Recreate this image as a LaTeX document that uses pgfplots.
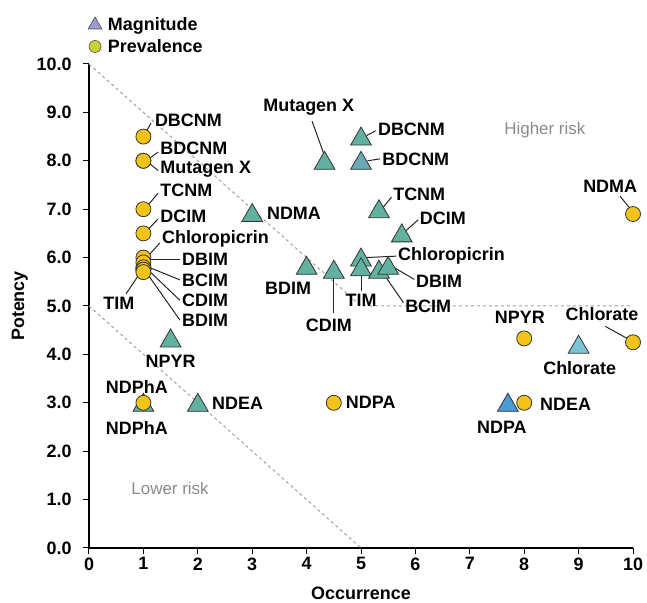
\documentclass[border=0pt]{standalone}
\usepackage{fontspec}
\setmainfont{Liberation Sans}
\usepackage{pgfplots}
\pgfplotsset{compat=1.18}
\definecolor{tri}{HTML}{62B0A0}
\definecolor{trib}{HTML}{6AAAB6}
\definecolor{trin}{HTML}{4C9CD8}
\definecolor{tric}{HTML}{7CC4D4}
\definecolor{circ}{HTML}{F4C31A}
\definecolor{legtri}{HTML}{9C9CD2}
\definecolor{legcirc}{HTML}{C9D432}
\definecolor{riskgray}{HTML}{8A8A8A}
\tikzset{lab/.style={font=\fontsize{18}{20}\selectfont\bfseries, inner sep=0pt}}
\begin{document}
\begin{tikzpicture}[x=1bp,y=1bp]
\path[use as bounding box] (-89,-55) rectangle (558,548);
\begin{axis}[
  at={(0,0)}, anchor=south west,
  scale only axis, width=544bp, height=484bp,
  xmin=0, xmax=10, ymin=0, ymax=10,
  clip=false,
  axis lines=left, axis line style={-, line width=1.2bp},
  tick align=outside, major tick length=6bp,
  tick style={line width=1bp, black},
  xtick={0,...,10}, ytick={0,...,10},
  /pgf/number format/assume math mode=true,
  tick label style={font=\fontsize{18}{20}\selectfont\bfseries},
  yticklabel style={xshift=-8bp, /pgf/number format/.cd, fixed, fixed zerofill, precision=1},
  xlabel={Occurrence}, ylabel={Potency},
  every axis x label/.style={at={(axis cs:5,-0.93)}, anchor=center, font=\fontsize{18}{20}\selectfont\bfseries},
  every axis y label/.style={at={(axis cs:-1.27,5)}, rotate=90, anchor=center, font=\fontsize{18}{20}\selectfont\bfseries},
  legend style={at={(axis cs:-0.02,10.98)}, anchor=north west, draw=none, fill=none,
    font=\fontsize{18}{20}\selectfont\bfseries, row sep=5bp, inner sep=0pt,
    nodes={inner xsep=6bp, inner ysep=1bp}},
  legend cell align=left,
]
\addlegendimage{only marks, mark=triangle*, mark size=8bp, mark options={fill=legtri, draw=black!70, line width=0.6bp}}
\addlegendentry{Magnitude}
\addlegendimage{only marks, mark=*, mark size=6bp, mark options={fill=legcirc, draw=black!70, line width=0.6bp}}
\addlegendentry{Prevalence}

% risk boundaries
\addplot[forget plot, riskgray!80, line width=1bp, dash pattern=on 3bp off 3bp] coordinates {(0,10) (5,5) (10,5)};
\addplot[forget plot, riskgray!80, line width=1bp, dash pattern=on 3bp off 3bp] coordinates {(0,5) (5,0)};

% Magnitude
\addplot[forget plot, only marks, mark=triangle*, mark size=12bp, mark options={fill=tri, draw=black!80, line width=0.8bp, yshift=-2.5bp}] coordinates {
(1,3) (1.5,4.33) (2,3) (3,6.92) (4,5.83) (4.33,8) (4.5,5.75) (5,8.5)
(5,6) (5,5.8) (5.33,7) (5.33,5.75) (5.5,5.83) (5.75,6.5)};
\addplot[forget plot, only marks, mark=triangle*, mark size=12bp, mark options={fill=trib, draw=black!80, line width=0.8bp, yshift=-2.5bp}] coordinates {(5,8)};
\addplot[forget plot, only marks, mark=triangle*, mark size=12bp, mark options={fill=trin, draw=black!80, line width=0.8bp, yshift=-2.5bp}] coordinates {(7.7,3)};
\addplot[forget plot, only marks, mark=triangle*, mark size=12bp, mark options={fill=tric, draw=black!80, line width=0.8bp, yshift=-2.5bp}] coordinates {(9,4.2)};

% Prevalence
\addplot[forget plot, only marks, mark=*, mark size=7.5bp, mark options={fill=circ, draw=black!80, line width=0.8bp}] coordinates {
(1,8.5) (1,8) (1,8) (1,7) (1,6.5) (1,6) (1,5.9) (1,5.8) (1,5.75) (1,5.75) (1,5.7)
(1,3) (4.5,3) (8,4.33) (8,3) (10,6.9) (10,4.25)};

% region labels
\node[lab, font=\fontsize{17}{20}\selectfont, text=riskgray] at (axis cs:8.38,8.64) {Higher risk};
\node[lab, font=\fontsize{17}{20}\selectfont, text=riskgray] at (axis cs:1.49,1.24) {Lower risk};

% leader lines
\begin{scope}[line width=1bp, black!85]
\draw (axis cs:1.14,8.78) -- (axis cs:1.06,8.62);
\draw (axis cs:1.27,8.18) -- (axis cs:1.05,8.0);
\draw (axis cs:1.27,7.8) -- (axis cs:1.05,8.0);
\draw (axis cs:1.27,7.33) -- (axis cs:1.02,7.0);
\draw (axis cs:1.27,6.8) -- (axis cs:1.02,6.5);
\draw (axis cs:1.3,6.3) -- (axis cs:1.1,6.05);
\draw (axis cs:1.67,5.97) -- (axis cs:1.1,5.97);
\draw (axis cs:1.67,5.54) -- (axis cs:1.1,5.8);
\draw (axis cs:1.67,5.12) -- (axis cs:1.08,5.75);
\draw (axis cs:1.67,4.71) -- (axis cs:1.05,5.7);
\draw (axis cs:0.68,5.25) -- (axis cs:0.95,5.7);
\draw (axis cs:4.1,8.82) -- (axis cs:4.33,8.1);
\draw (axis cs:5.27,8.62) -- (axis cs:5.1,8.52);
\draw (axis cs:5.35,8.04) -- (axis cs:5.12,8.0);
\draw (axis cs:5.56,7.25) -- (axis cs:5.38,7.0);
\draw (axis cs:6.05,6.78) -- (axis cs:5.82,6.55);
\draw (axis cs:5.65,6.03) -- (axis cs:5.08,6.0);
\draw (axis cs:5.98,5.55) -- (axis cs:5.6,5.8);
\draw (axis cs:5.78,5.07) -- (axis cs:5.38,5.72);
\draw (axis cs:5.0,5.3) -- (axis cs:5.0,5.7);
\draw (axis cs:4.49,4.85) -- (axis cs:4.49,5.6);
\draw (axis cs:9.76,7.27) -- (axis cs:9.98,6.97);
\draw (axis cs:9.49,4.58) -- (axis cs:9.94,4.3);
\end{scope}

% labels
\node[lab, anchor=west] at (axis cs:1.21,8.84) {DBCNM};
\node[lab, anchor=west] at (axis cs:1.31,8.26) {BDCNM};
\node[lab, anchor=west] at (axis cs:1.31,7.83) {Mutagen X};
\node[lab, anchor=west] at (axis cs:1.31,7.40) {TCNM};
\node[lab, anchor=west] at (axis cs:1.31,6.86) {DCIM};
\node[lab, anchor=west] at (axis cs:1.34,6.38) {Chloropicrin};
\node[lab, anchor=west] at (axis cs:1.71,5.97) {DBIM};
\node[lab, anchor=west] at (axis cs:1.71,5.54) {BCIM};
\node[lab, anchor=west] at (axis cs:1.71,5.12) {CDIM};
\node[lab, anchor=west] at (axis cs:1.71,4.71) {BDIM};
\node[lab] at (axis cs:0.55,5.06) {TIM};
\node[lab] at (axis cs:0.88,3.33) {NDPhA};
\node[lab] at (axis cs:0.88,2.48) {NDPhA};
\node[lab] at (axis cs:1.5,3.85) {NPYR};
\node[lab, anchor=west] at (axis cs:2.26,2.98) {NDEA};
\node[lab, anchor=west] at (axis cs:3.27,6.92) {NDMA};
\node[lab] at (axis cs:4.04,9.1) {Mutagen X};
\node[lab, anchor=west] at (axis cs:5.31,8.64) {DBCNM};
\node[lab, anchor=west] at (axis cs:5.39,8.04) {BDCNM};
\node[lab, anchor=west] at (axis cs:5.59,7.31) {TCNM};
\node[lab, anchor=west] at (axis cs:6.08,6.82) {DCIM};
\node[lab, anchor=west] at (axis cs:5.68,6.03) {Chloropicrin};
\node[lab, anchor=west] at (axis cs:6.01,5.5) {DBIM};
\node[lab, anchor=west] at (axis cs:5.81,5.0) {BCIM};
\node[lab] at (axis cs:5.0,5.12) {TIM};
\node[lab] at (axis cs:4.41,4.6) {CDIM};
\node[lab] at (axis cs:3.66,5.37) {BDIM};
\node[lab] at (axis cs:9.58,7.48) {NDMA};
\node[lab] at (axis cs:7.92,4.77) {NPYR};
\node[lab] at (axis cs:9.43,4.83) {Chlorate};
\node[lab] at (axis cs:9.02,3.72) {Chlorate};
\node[lab, anchor=west] at (axis cs:8.29,2.96) {NDEA};
\node[lab] at (axis cs:7.59,2.5) {NDPA};
\node[lab, anchor=west] at (axis cs:4.72,3.0) {NDPA};
\end{axis}
\end{tikzpicture}
\end{document}
